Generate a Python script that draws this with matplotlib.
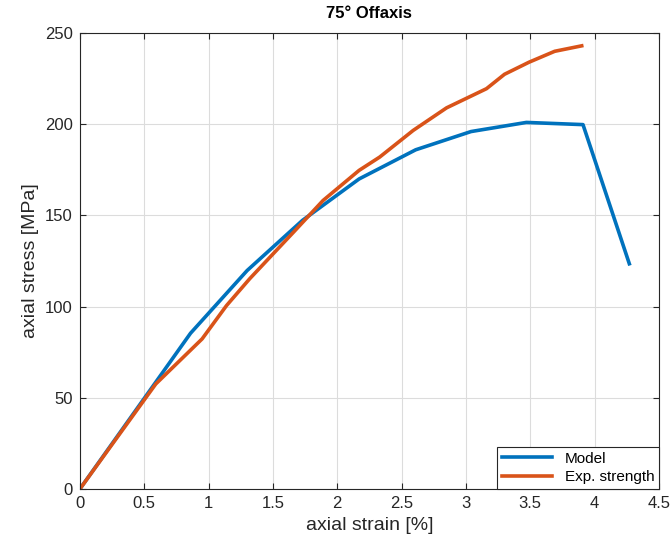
import matplotlib
matplotlib.use("Agg")
import matplotlib.pyplot as plt

plt.rcParams['font.family'] = ['Liberation Sans', 'DejaVu Sans']

# model curve
model_strain = [0, 0.86, 1.30, 1.73, 2.17, 2.61, 3.04, 3.47, 3.91, 4.27]
model_stress = [0, 85.4, 119.8, 147.3, 170, 186, 196, 201, 199.8, 123.5]

# experiment
exp_strain = [0, 0.59, 0.95, 1.14, 1.32, 1.66, 1.89, 2.17, 2.33, 2.59, 2.85, 3.16, 3.30, 3.49, 3.69, 3.90]
exp_stress = [0, 57.6, 82.3, 100.6, 115.3, 140.8, 158.2, 174.7, 182, 196.6, 209, 219.5, 227.4, 234, 240, 243]

xticks = [0, 0.5, 1, 1.5, 2, 2.5, 3, 3.5, 4, 4.5]
yticks = [0, 50, 100, 150, 200, 250]

fig = plt.figure(figsize=(6.71, 5.51), dpi=100)
ax = fig.add_axes([0.119, 0.1125, 0.863, 0.8275])

ax.plot(model_strain, model_stress, color='#0072BD', lw=2.6, label='Model')
ax.plot(exp_strain, exp_stress, color='#D95319', lw=2.6, label='Exp. strength')

ax.set_xlim(0, 4.5)
ax.set_ylim(0, 250)
ax.set_xticks(xticks)
ax.set_xticklabels(['0', '0.5', '1', '1.5', '2', '2.5', '3', '3.5', '4', '4.5'])
ax.set_yticks(yticks)
ax.grid(True, color='#dcdcdc', lw=0.8)
ax.set_axisbelow(True)
ax.tick_params(direction='in', top=True, right=True, labelsize=12, colors='#262626', length=4, pad=5)
for s in ax.spines.values():
    s.set_color('#262626')
    s.set_linewidth(0.8)

ax.set_xlabel('axial strain [%]', fontsize=14, color='#262626')
ax.set_ylabel('axial stress [MPa]', fontsize=14, color='#262626')
ax.set_title('75° Offaxis', fontsize=12, fontweight='bold', pad=11)

leg = ax.legend(loc='lower right', fontsize=11, fancybox=False, framealpha=1,
                edgecolor='#262626', borderaxespad=0, handlelength=3.3, borderpad=0.3, labelspacing=0.3)
leg.get_frame().set_linewidth(0.8)

fig.savefig('out.png', dpi=100)
